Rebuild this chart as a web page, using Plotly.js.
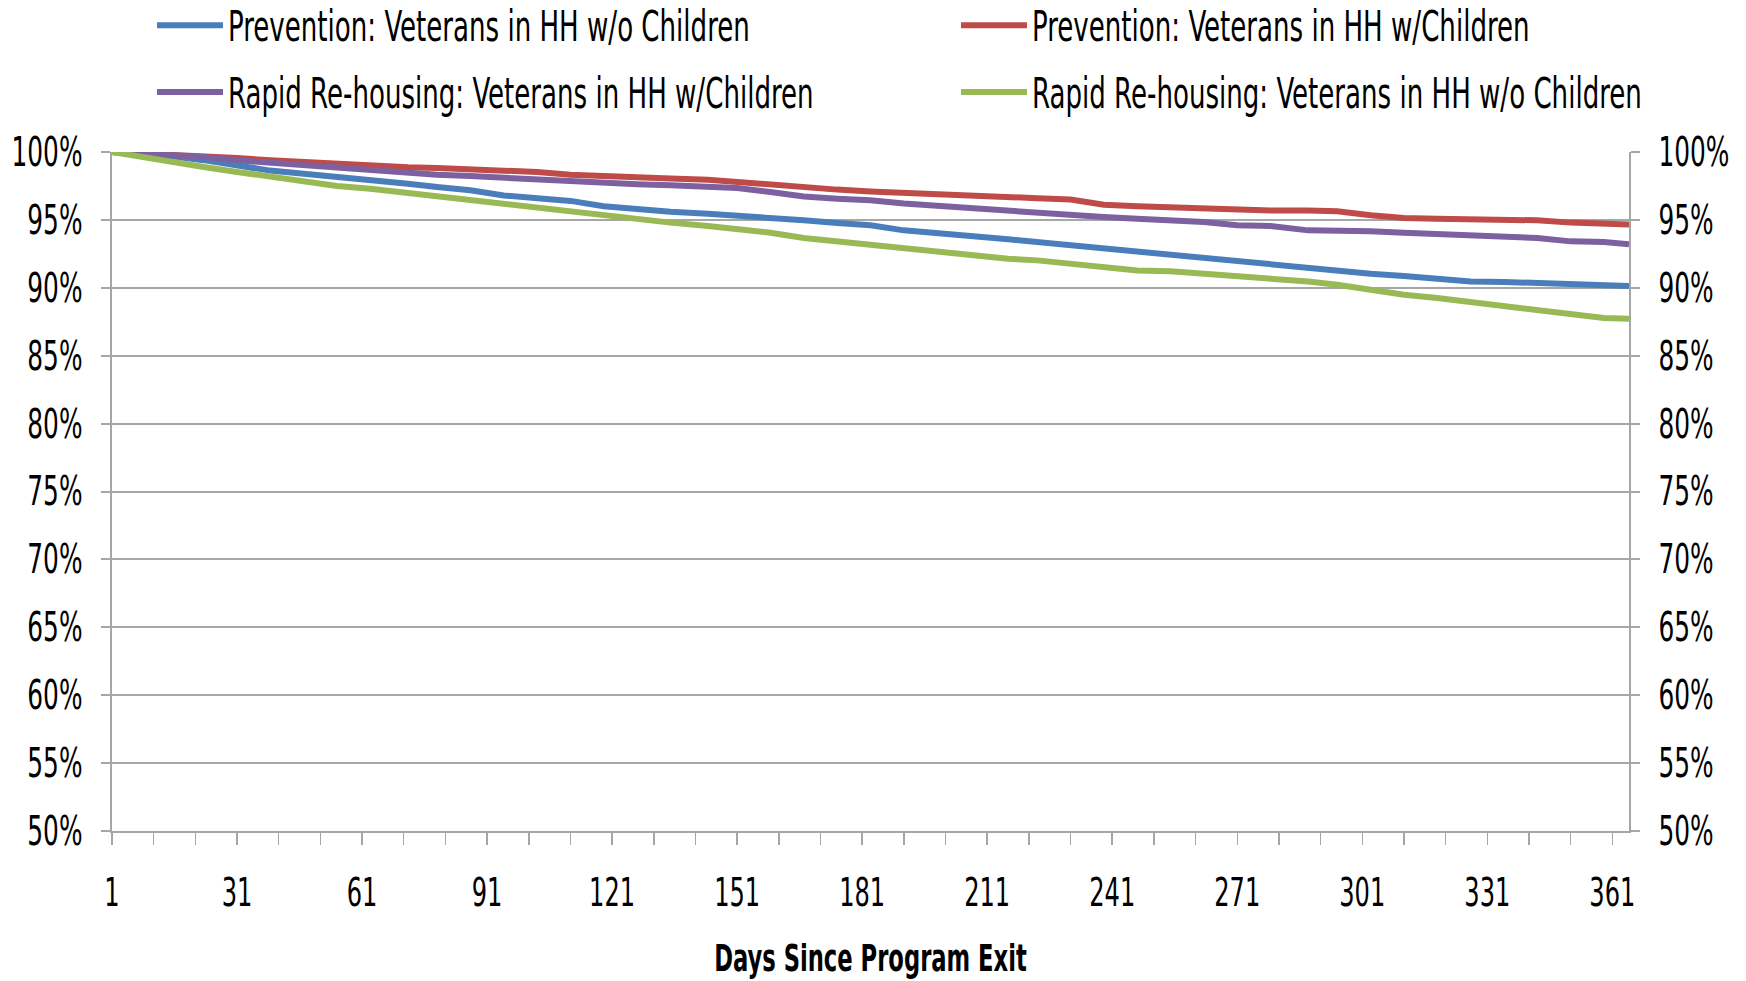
<!DOCTYPE html>
<html>
<head>
<meta charset="utf-8">
<script src="https://cdn.plot.ly/plotly-3.0.1.min.js"></script>
<style>
html, body { margin: 0; padding: 0; background: #ffffff; }
#chart { width: 1746px; height: 981px; }
</style>
</head>
<body>
<div id="chart"></div>
<script>
// ---------------- DATA ----------------
const days = [1, 7, 15, 23, 31, 39, 47, 55, 63, 72,
  79, 87, 95, 103, 111, 119, 127, 135, 144,
  151, 159, 167, 175, 183, 191, 199, 207, 216,
  223, 231, 239, 247, 255, 263, 271, 279, 288,
  295, 303, 311, 319, 327, 335, 343, 351, 359, 365];

const preventionNoChildren = [100, 99.88, 99.7, 99.4, 99.0, 98.63, 98.4, 98.2, 97.95, 97.67,
  97.42, 97.18, 96.8, 96.56, 96.4, 96.0, 95.75, 95.6, 95.46,
  95.34, 95.21, 94.97, 94.77, 94.6, 94.23, 94.06, 93.81, 93.57,
  93.37, 93.13, 92.83, 92.64, 92.39, 92.14, 91.9, 91.73, 91.46,
  91.28, 91.04, 90.87, 90.67, 90.47, 90.43, 90.35, 90.3, 90.18, 90.13];

const preventionWithChildren = [100, 99.93, 99.83, 99.7, 99.55, 99.4, 99.26, 99.14, 99.0, 98.87,
  98.82, 98.72, 98.65, 98.53, 98.33, 98.2, 98.16, 98.04, 97.96,
  97.79, 97.6, 97.35, 97.23, 97.1, 96.98, 96.93, 96.8, 96.69,
  96.6, 96.5, 96.12, 96.0, 95.92, 95.88, 95.75, 95.7, 95.7,
  95.63, 95.34, 95.14, 95.09, 95.04, 95.04, 94.97, 94.8, 94.7, 94.67];

const rapidWithChildren = [100, 99.9, 99.8, 99.63, 99.39, 99.2, 99.0, 98.85, 98.65, 98.4,
  98.33, 98.23, 98.1, 97.96, 97.8, 97.74, 97.62, 97.55, 97.42,
  97.35, 97.05, 96.73, 96.56, 96.44, 96.2, 96.02, 95.9, 95.65,
  95.58, 95.38, 95.21, 95.09, 94.97, 94.84, 94.6, 94.55, 94.23,
  94.23, 94.16, 94.06, 93.99, 93.91, 93.74, 93.67, 93.42, 93.37, 93.2];

const rapidNoChildren = [100, 99.68, 99.26, 98.9, 98.53, 98.16, 97.84, 97.5, 97.3, 96.98,
  96.73, 96.44, 96.12, 95.88, 95.63, 95.34, 95.04, 94.8, 94.55,
  94.35, 94.06, 93.67, 93.42, 93.18, 92.88, 92.64, 92.4, 92.14,
  92.02, 91.78, 91.53, 91.28, 91.21, 91.04, 90.87, 90.67, 90.47,
  90.23, 89.81, 89.49, 89.25, 88.95, 88.76, 88.41, 88.09, 87.77, 87.73];

const seriesNames = [
  'Prevention: Veterans in HH w/o Children',
  'Prevention: Veterans in HH w/Children',
  'Rapid Re-housing: Veterans in HH w/Children',
  'Rapid Re-housing: Veterans in HH w/o Children'
];

const xTickVals = [1, 31, 61, 91, 121, 151, 181, 211, 241, 271, 301, 331, 361];
const xTickText = ['1', '31', '61', '91', '121', '151', '181', '211', '241', '271', '301', '331', '361'];
const yTickVals = [50, 55, 60, 65, 70, 75, 80, 85, 90, 95, 100];
const yTickText = ['50%', '55%', '60%', '65%', '70%', '75%', '80%', '85%', '90%', '95%', '100%'];
const xAxisTitle = 'Days Since Program Exit';

// ---------------- FONT PICKING / SIZING ----------------
const ctx = document.createElement('canvas').getContext('2d');
function widthOf(text, family, size, weight) {
  ctx.font = (weight || 'normal') + ' ' + size + 'px ' + family;
  return ctx.measureText(text).width;
}
function pickFont(cands) {
  const t = 'Prevention: Veterans in HH w/o Children 100%';
  const wm = widthOf(t, 'monospace', 100);
  const ws = widthOf(t, 'serif', 100);
  for (const f of cands) {
    const a = widthOf(t, '"' + f + '", monospace', 100);
    const b = widthOf(t, '"' + f + '", serif', 100);
    if (Math.abs(a - b) < 0.01 && Math.abs(a - wm) > 0.5 && Math.abs(b - ws) > 0.5) return f;
  }
  return 'Liberation Sans';
}
const FONT = pickFont(['Liberation Sans Narrow', 'Arial Narrow', 'DejaVu Sans Condensed',
  'Roboto Condensed', 'Noto Sans Condensed', 'Open Sans Condensed', 'Liberation Sans']);
const FAM = '"' + FONT + '", sans-serif';
function fitSize(text, targetW, weight) {
  const w = widthOf(text, FAM, 100, weight);
  return Math.round(100 * targetW / w * 10) / 10;
}
const legendSize = fitSize(seriesNames[0], 522);
const yTickSize = fitSize('100%', 71);
const xTickSize = fitSize('361', 46);
const titleSize = fitSize(xAxisTitle, 313, 'bold');

// ---------------- CHART ----------------
const GRID = '#a6a6a6';
const colors = ['#4a7ebb', '#be4b48', '#7d60a0', '#98b954'];
const seriesValues = [preventionNoChildren, preventionWithChildren, rapidWithChildren, rapidNoChildren];
const legendOf = ['legend', 'legend2', 'legend', 'legend2'];

const traces = seriesValues.map((vals, i) => ({
  type: 'scatter',
  mode: 'lines',
  x: days,
  y: vals,
  name: seriesNames[i],
  legend: legendOf[i],
  legendgroup: 'g' + i,
  line: { color: colors[i], width: 6, shape: 'linear' },
  hoverinfo: 'skip'
}));
// empty trace so the right-hand mirrored percentage axis is drawn
traces.push({ type: 'scatter', mode: 'lines', x: [], y: [], yaxis: 'y2', showlegend: false, hoverinfo: 'skip' });

const L = 112, R = 1629, T = 152, B = 831;
const W = 1746, H = 981;
const LEFT_LABEL_RIGHT_EDGE = 82.5;   // where the left percentage labels end, in px

const legendCommon = {
  xref: 'container', yref: 'container',
  xanchor: 'left', yanchor: 'top',
  orientation: 'v',
  traceorder: 'grouped',
  tracegroupgap: 26,
  itemwidth: 66,
  bgcolor: 'rgba(0,0,0,0)',
  borderwidth: 0,
  font: { family: FAM, size: legendSize, color: '#000000' }
};

const layout = {
  width: W, height: H,
  paper_bgcolor: '#ffffff',
  plot_bgcolor: '#ffffff',
  margin: { l: L, r: W - R, t: T, b: H - B, pad: 0, autoexpand: false },
  showlegend: true,
  legend: Object.assign({}, legendCommon, { x: 152 / W, y: 1 }),
  legend2: Object.assign({}, legendCommon, { x: 956 / W, y: 1 }),
  xaxis: {
    range: [1, 365],
    fixedrange: true,
    showgrid: false,
    zeroline: false,
    showline: true, linecolor: GRID, linewidth: 2,
    tickmode: 'array', tickvals: xTickVals, ticktext: xTickText,
    tickangle: 0,
    ticks: 'outside', ticklen: 12, tickwidth: 1.5, tickcolor: GRID,
    ticklabelstandoff: 25,
    minor: { tickmode: 'linear', tick0: 1, dtick: 10, ticks: 'outside', ticklen: 12, tickwidth: 1.5, tickcolor: GRID, showgrid: false },
    tickfont: { family: FAM, size: xTickSize, color: '#000000' },
    title: { text: xAxisTitle, standoff: 42, font: { family: FAM, size: titleSize, color: '#000000', weight: 'bold' } },
    automargin: false
  },
  yaxis: {
    range: [50, 100],
    fixedrange: true,
    showgrid: true, gridcolor: GRID, gridwidth: 2,
    zeroline: false,
    showline: true, linecolor: GRID, linewidth: 2,
    tickmode: 'array', tickvals: yTickVals, ticktext: yTickText,
    ticks: 'outside', ticklen: 9, tickwidth: 2, tickcolor: GRID,
    ticklabelstandoff: 20,
    tickfont: { family: FAM, size: yTickSize, color: '#000000' },
    automargin: false
  },
  yaxis2: {
    overlaying: 'y', side: 'right',
    range: [50, 100],
    fixedrange: true,
    showgrid: false, zeroline: false,
    showline: true, linecolor: GRID, linewidth: 2,
    tickmode: 'array', tickvals: yTickVals, ticktext: yTickText,
    ticks: 'outside', ticklen: 9, tickwidth: 2, tickcolor: GRID,
    ticklabelstandoff: 13,
    tickfont: { family: FAM, size: yTickSize, color: '#000000' },
    automargin: false
  }
};

// The reference's lettering is tall and narrow; stretch every label vertically about its own centre.
const STRETCH = 1.45;
function stretchText() {
  const host = document.getElementById('chart').getBoundingClientRect();
  document.querySelectorAll('#chart svg text').forEach(t => {
    const prev = t.getAttribute('transform') || '';
    if (prev.indexOf('scale(1,') !== -1) return;
    const bb = t.getBBox();
    if (!bb || bb.height === 0) return;
    const cy = bb.y + bb.height / 2;
    t.setAttribute('transform', prev + ' translate(0,' + cy + ') scale(1,' + STRETCH + ') translate(0,' + (-cy) + ')');
  });
  // right-align the left percentage labels at the same edge as the reference
  document.querySelectorAll('#chart g.ytick text').forEach(t => {
    if (t.getAttribute('data-aligned')) return;
    const r = t.getBoundingClientRect().right - host.left;
    const dx = LEFT_LABEL_RIGHT_EDGE - r;
    t.setAttribute('transform', 'translate(' + dx + ',0) ' + (t.getAttribute('transform') || ''));
    t.setAttribute('data-aligned', '1');
  });
}

Plotly.newPlot('chart', traces, layout, { staticPlot: true, displayModeBar: false })
  .then(() => {
    stretchText();
    requestAnimationFrame(stretchText);
    [20, 100, 300, 700].forEach(ms => setTimeout(stretchText, ms));
  });
</script>
</body>
</html>
